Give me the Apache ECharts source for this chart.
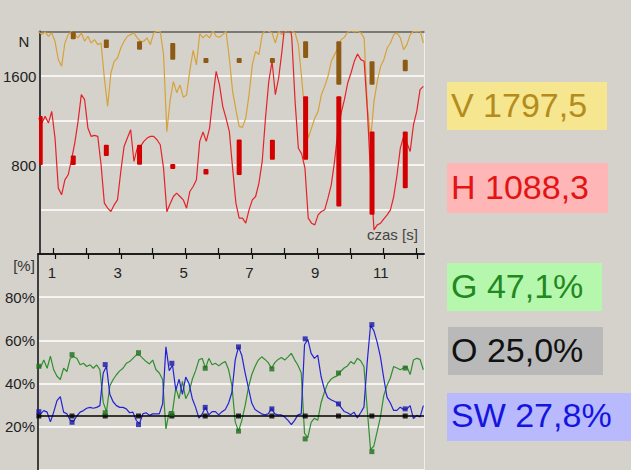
<!DOCTYPE html>
<html>
<head>
<meta charset="utf-8">
<script src="https://cdn.jsdelivr.net/npm/echarts@6/dist/echarts.min.js"></script>
<style>
html,body{margin:0;padding:0;background:#d5d2cc;}
#c{width:631px;height:470px;}
</style>
</head>
<body>
<div id="c"></div>
<script>
// ---- time base (seconds) ----
const T0 = 0.5;
const DT = 0.1;
const X_MIN = 0.524;
const X_MAX = 12.22;
const TICK_VALUES = [1,2,3,4,5,6,7,8,9,10,11,12];
const LABEL_VALUES = [1,3,5,7,9,11];

// ---- top chart: forces [N] ----
const vForce = [
  2000,1972,1996,1957,1987,1912,1747,1687,1897,1972,
  2000,1972,1942,1987,1912,1957,1897,1927,1882,1897,
  1582,1327,1627,1732,1762,1852,1912,1957,1972,1987,
  1942,1912,1912,1942,1882,1987,2002,2002,1792,1100,
  1380,1550,1450,1520,1410,1430,1650,1830,1700,1980,
  1942,1972,1942,2008,1957,1948,1972,2002,1762,1462,
  1297,1147,1138,1222,1432,1702,1822,1792,1972,2017,
  2002,1987,1897,2002,1972,2002,2017,2002,1987,1882,
  1582,1252,1042,1132,1222,1282,1432,1507,1597,1732,
  1792,1852,1927,1948,1996,2008,1996,2002,1987,1942,
  1312,1042,1372,1552,1687,1747,1852,1897,1972,1987,
  1942,1837,1882,1972,2002,1996,2008,1897
];
const hForce = [
  1220,1177,1237,1177,1282,1042,592,532,667,712,
  847,997,1192,1432,1387,1132,1057,1066,1057,802,
  457,412,382,442,487,742,967,1042,1117,832,
  952,967,1012,1042,1057,1057,1027,982,772,380,
  451,517,547,517,487,412,562,607,667,1012,
  1096,1012,1132,1402,1642,1522,1327,1222,1102,772,
  457,322,322,277,397,487,517,637,832,1222,
  1552,1732,1432,1582,1822,2100,2150,1942,1372,950,
  900,772,322,277,262,352,382,397,502,622,
  832,1102,1267,1387,1537,1627,1732,1798,1747,1732,
  1282,682,217,262,277,316,352,397,517,712,
  952,1057,997,922,1162,1282,1477,1507
];

// ---- step markers ----
const markTimes = [0.55,1.555,2.56,3.57,4.58,5.59,6.60,7.61,8.62,9.63,10.64,11.65];
const vMarkLow  = [null,1930,1852,1837,1747,1720,1725,1717,1762,1522,1522,1642];
const vMarkHigh = [null,2000,1927,1912,1897,1760,1755,1762,1912,1912,1732,1747];
const hMarkLow  = [800,800,880,802,770,715,710,847,847,427,352,592];
const hMarkHigh = [1240,885,982,982,805,765,1030,1027,1417,1417,1102,1102];

// ---- bottom chart: shares [%] ----
const gShare = [
  48.7,47.5,50.9,47.1,52.7,46.4,43.4,41.9,47.1,45.6,
  51.7,52.4,51.7,48.7,49.4,47.9,48.7,47.1,48.7,46.4,
  31.3,27.0,38.9,41.9,44.1,45.9,47.1,49.4,50.2,51.7,
  53.2,53.2,51.7,50.2,49.1,50.9,46.4,44.9,41.9,19.0,
  27.0,27.0,38.0,33.0,41.0,33.0,36.0,42.0,46.0,51.0,
  51.7,47.1,51.7,48.7,49.4,48.2,49.4,50.2,46.4,39.0,
  22.3,18.0,23.0,29.8,38.1,44.1,47.9,50.9,52.4,51.2,
  49.7,47.1,49.7,51.2,52.1,50.9,52.4,54.0,51.0,48.5,
  45.0,17.0,15.0,22.0,24.0,23.0,31.0,36.0,40.0,42.0,
  43.0,43.7,45.7,47.2,48.2,50.2,49.1,51.7,50.6,47.9,
  28.0,9.5,11.0,17.8,24.5,34.4,39.2,42.6,47.9,47.2,
  46.4,47.2,47.9,44.2,50.9,51.7,51.2,46.4
];
const swShare = [
  27.5,26.0,27.5,26.8,22.3,26.8,32.1,34.0,26.8,26.0,
  23.0,22.5,25.0,26.8,27.5,28.6,29.0,28.6,29.0,29.8,
  44.9,48.0,35.1,31.6,29.8,29.0,29.0,28.3,26.5,26.8,
  23.0,21.5,26.0,26.5,25.3,26.0,26.0,26.0,30.6,57.0,
  46.0,48.5,37.0,42.0,35.0,43.0,40.0,33.0,29.0,24.0,
  26.0,29.0,25.5,27.0,27.0,25.5,27.0,28.0,31.0,36.0,
  51.0,57.0,53.0,45.0,38.0,31.0,28.0,27.0,26.0,25.5,
  26.0,28.5,26.0,25.5,25.5,24.5,23.0,21.0,23.0,25.5,
  26.0,58.0,60.5,54.0,51.7,53.2,43.4,37.4,33.6,32.5,
  31.8,31.0,29.1,27.1,26.5,25.6,26.8,24.1,26.5,29.1,
  50.0,67.0,64.5,59.2,52.4,42.6,33.6,31.0,27.6,27.6,
  29.1,28.0,28.3,29.8,23.8,25.3,24.5,29.8
];
const O_LEVEL = 25.0;
const gMark  = [48.0,53.4,26.5,54.3,26.0,47.1,18.0,46.8,14.4,44.9,8.5,47.2];
const swMark = [27.0,22.1,48.8,21.0,49.4,29.0,57.0,28.3,60.7,30.6,67.3,28.3];
const oMark  = [25.0,25.0,25.0,25.0,25.0,25.0,25.0,25.0,25.0,25.0,25.0,25.0];

// ---- readouts ----
const readoutNames  = ['V','H','G','O','SW'];
const readoutValues = ['1797,5','1088,3','47,1%','25,0%','27,8%'];

// ---- tick labels ----
const forceLabels = [800,1600];
const shareLabels = [20,40,60,80];

// ================= build =================
const FONT = '"Liberation Sans", Arial, sans-serif';
const sampleTimes = vForce.map((_, i) => +(T0 + i * DT).toFixed(2));
const pairs = (vals) => vals.map((v, i) => [sampleTimes[i], v]);
const markPairs = (vals) => vals.map((v, i) => [markTimes[i], v]);
const rangeData = (lo, hi) => {
  const out = [];
  lo.forEach((l, i) => { if (l != null) out.push([markTimes[i], l, hi[i]]); });
  return out;
};

function barItem(color) {
  return function (params, api) {
    const top = api.coord([api.value(0), api.value(2)]);
    const bot = api.coord([api.value(0), api.value(1)]);
    const w = 5;
    let y = top[1], h = bot[1] - top[1];
    if (h < 5) { y -= (5 - h) / 2; h = 5; }
    return {
      type: 'rect',
      shape: { x: top[0] - w / 2, y: y, width: w, height: h, r: 1 },
      style: { fill: color }
    };
  };
}

const boxStyles = [
  { x: 447, y: 82,  w: 160, h: 48, bg: '#f6e690', fg: '#b48c1e', ty: 105 },
  { x: 447, y: 163, w: 161, h: 50, bg: '#ffb6b6', fg: '#e31414', ty: 187 },
  { x: 447, y: 263, w: 155, h: 48, bg: '#b6f7ae', fg: '#21891f', ty: 286 },
  { x: 448, y: 327, w: 155, h: 48, bg: '#b9b9b9', fg: '#111111', ty: 350 },
  { x: 447, y: 393, w: 184, h: 48, bg: '#b9b9fd', fg: '#1515e0', ty: 415 }
];
const graphics = [];
readoutNames.forEach((n, i) => {
  const b = boxStyles[i];
  graphics.push({ type: 'rect', left: b.x, top: b.y, shape: { width: b.w, height: b.h }, style: { fill: b.bg }, silent: true });
  graphics.push({ type: 'text', x: 451, y: b.ty, style: { text: n + ' ' + readoutValues[i], fill: b.fg, font: '34px ' + FONT, align: 'left', verticalAlign: 'middle' }, silent: true });
});
graphics.push({ type: 'text', x: 24, y: 41, style: { text: 'N', fill: '#222', font: '15px ' + FONT, align: 'center', verticalAlign: 'middle' } });
graphics.push({ type: 'text', x: 24, y: 265, style: { text: '[%]', fill: '#333', font: '15px ' + FONT, align: 'center', verticalAlign: 'middle' } });
graphics.push({ type: 'text', x: 367, y: 234, style: { text: 'czas [s]', fill: '#444', font: '15px ' + FONT, align: 'left', verticalAlign: 'middle' } });

const axisDark = '#3e3e3e';
const option = {
  backgroundColor: '#d5d2cc',
  animation: false,
  grid: [
    { left: 38, top: 31.5, width: 386, height: 222.5 },
    { left: 38, top: 254, width: 386, height: 222 }
  ],
  xAxis: [
    { gridIndex: 0, type: 'value', min: X_MIN, max: X_MAX, position: 'bottom',
      axisLine: { onZero: false, lineStyle: { color: '#111', width: 1.5 } },
      axisTick: { show: true, customValues: TICK_VALUES, length: 5, lineStyle: { color: '#111', width: 1.2 } },
      axisLabel: { show: true, customValues: LABEL_VALUES, margin: 11, padding: [0, 6, 0, 0], color: '#222', fontSize: 15, fontFamily: FONT },
      splitLine: { show: false } },
    { gridIndex: 0, type: 'value', min: X_MIN, max: X_MAX, position: 'top',
      axisLine: { show: true, onZero: false, lineStyle: { color: '#505050', width: 1.5 } },
      axisTick: { show: false }, axisLabel: { show: false }, splitLine: { show: false } },
    { gridIndex: 1, type: 'value', min: X_MIN, max: X_MAX, position: 'top',
      axisLine: { show: true, onZero: false, lineStyle: { color: '#111', width: 1.5 } },
      axisTick: { show: true, customValues: TICK_VALUES, length: 6, lineStyle: { color: '#111', width: 1.2 } },
      axisLabel: { show: false }, splitLine: { show: false } }
  ],
  yAxis: [
    { gridIndex: 0, type: 'value', min: 0, max: 2000, interval: 400, position: 'left',
      axisLine: { show: true, onZero: false, lineStyle: { color: axisDark, width: 2 } },
      axisTick: { show: false },
      axisLabel: { margin: 3, color: '#222', fontSize: 15, fontFamily: FONT,
        formatter: (v) => forceLabels.indexOf(v) >= 0 ? String(v) : '' },
      splitLine: { show: true, lineStyle: { color: '#ffffff', width: 1.5 } } },
    { gridIndex: 0, type: 'value', min: 0, max: 2000, position: 'right',
      axisLine: { show: true, onZero: false, lineStyle: { color: '#eeeeee', width: 1 } },
      axisTick: { show: false }, axisLabel: { show: false }, splitLine: { show: false } },
    { gridIndex: 1, type: 'value', min: 0, max: 100, interval: 20, position: 'left',
      axisLine: { show: true, onZero: false, lineStyle: { color: axisDark, width: 2 } },
      axisTick: { show: false },
      axisLabel: { margin: 3, color: '#222', fontSize: 15, fontFamily: FONT,
        formatter: (v) => shareLabels.indexOf(v) >= 0 ? v + '%' : '' },
      splitLine: { show: true, lineStyle: { color: '#ffffff', width: 1.5 } } },
    { gridIndex: 1, type: 'value', min: 0, max: 100, position: 'right',
      axisLine: { show: true, onZero: false, lineStyle: { color: '#eeeeee', width: 1 } },
      axisTick: { show: false }, axisLabel: { show: false }, splitLine: { show: false } }
  ],
  series: [
    { name: 'V', type: 'line', xAxisIndex: 0, yAxisIndex: 0, data: pairs(vForce), showSymbol: false,
      lineStyle: { color: '#d6a23a', width: 1.2 }, z: 2 },
    { name: 'H', type: 'line', xAxisIndex: 0, yAxisIndex: 0, data: pairs(hForce), showSymbol: false,
      lineStyle: { color: '#e52228', width: 1.2 }, z: 3 },
    { name: 'V steps', type: 'custom', xAxisIndex: 0, yAxisIndex: 0, clip: true,
      data: rangeData(vMarkLow, vMarkHigh), encode: { x: 0, y: [1, 2] },
      renderItem: barItem('#8c5a14'), z: 4 },
    { name: 'H steps', type: 'custom', xAxisIndex: 0, yAxisIndex: 0, clip: true,
      data: rangeData(hMarkLow, hMarkHigh), encode: { x: 0, y: [1, 2] },
      renderItem: barItem('#d20000'), z: 5 },
    { name: 'G', type: 'line', xAxisIndex: 2, yAxisIndex: 2, data: pairs(gShare), showSymbol: false,
      lineStyle: { color: '#2f8f2f', width: 1.2 }, z: 2 },
    { name: 'SW', type: 'line', xAxisIndex: 2, yAxisIndex: 2, data: pairs(swShare), showSymbol: false,
      lineStyle: { color: '#2222d4', width: 1.2 }, z: 3 },
    { name: 'O', type: 'scatter', xAxisIndex: 2, yAxisIndex: 2, data: markPairs(oMark),
      symbol: 'rect', symbolSize: 5, itemStyle: { color: '#000' }, z: 6,
      markLine: { silent: true, symbol: 'none', label: { show: false }, animation: false,
        lineStyle: { color: '#000', width: 1.5, type: 'solid' }, data: [{ yAxis: O_LEVEL }] } },
    { name: 'G marks', type: 'scatter', xAxisIndex: 2, yAxisIndex: 2, data: markPairs(gMark),
      symbol: 'rect', symbolSize: 5, itemStyle: { color: '#1c6e1c' }, z: 7 },
    { name: 'SW marks', type: 'scatter', xAxisIndex: 2, yAxisIndex: 2, data: markPairs(swMark),
      symbol: 'rect', symbolSize: 5, itemStyle: { color: '#1818a8' }, z: 7 }
  ],
  graphic: graphics
};

const chart = echarts.init(document.getElementById('c'), null, { renderer: 'svg', width: 631, height: 470 });
chart.setOption(option);
</script>
</body>
</html>
